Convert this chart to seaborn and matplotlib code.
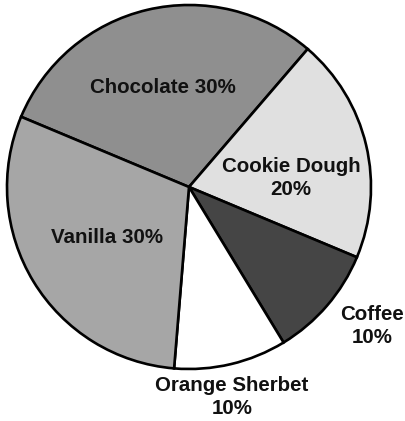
import matplotlib
matplotlib.use("Agg")
import matplotlib.pyplot as plt
import seaborn as sns

sns.set_theme(style="white")
plt.rcParams["font.family"] = ["Liberation Sans", "DejaVu Sans"]

# Flavour shares, listed clockwise starting from Chocolate
flavors = ["Chocolate", "Cookie Dough", "Coffee", "Orange Sherbet", "Vanilla"]
shares = [30, 20, 10, 10, 30]
greys = ["#8f8f8f", "#e0e0e0", "#454545", "#ffffff", "#a6a6a6"]
label_text = ["Chocolate 30%", "Cookie Dough\n20%", "Coffee\n10%",
              "Orange Sherbet\n10%", "Vanilla 30%"]
label_xy = [(-0.143, 0.549), (0.56, 0.049), (1.005, -0.764),
            (0.236, -1.154), (-0.45, -0.275)]

W, H, DPI = 406, 421, 100
fig = plt.figure(figsize=(W / DPI, H / DPI), dpi=DPI)
ax = fig.add_axes([0, 0, 1, 1])

radius_px = 182.0
cx, cy = 189.0, 187.0
ax.pie(shares, colors=greys, startangle=157.3, counterclock=False,
       radius=1.0,
       wedgeprops=dict(edgecolor="#000000", linewidth=1.9))
ax.set_xlim(-cx / radius_px, (W - cx) / radius_px)
ax.set_ylim(-(H - cy) / radius_px, cy / radius_px)
ax.set_aspect("equal")
ax.axis("off")

for txt, (x, y) in zip(label_text, label_xy):
    ax.text(x, y, txt, ha="center", va="center", fontsize=14.8,
            fontweight="bold", color="#111111", linespacing=1.25)

fig.savefig("out.png", dpi=DPI)
